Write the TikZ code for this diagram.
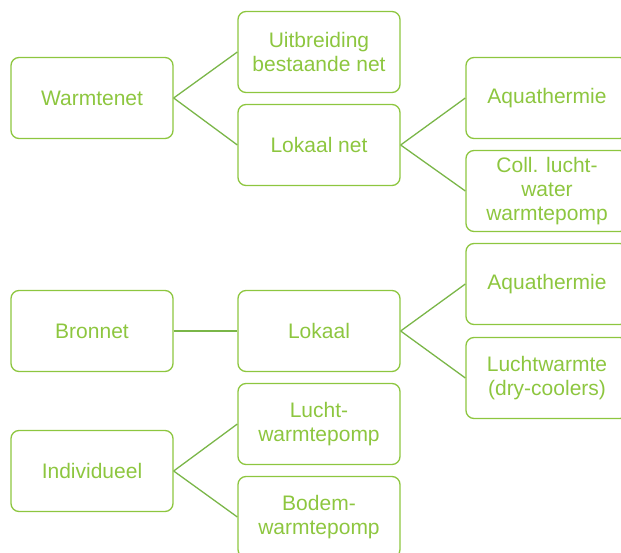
\documentclass[tikz,border=0pt]{standalone}
\usepackage{fontspec}
\setmainfont{Liberation Sans}
\usepackage{tikz}
\usetikzlibrary{positioning}
\definecolor{boxgreen}{HTML}{8DC63F}
\definecolor{linegreen}{HTML}{7AB648}
\tikzset{
	optie/.style={draw=boxgreen, line width=1.3pt, rounded corners=8pt,
		minimum width=162pt, minimum height=81pt, align=center,
		text=boxgreen, font=\fontsize{21}{24}\selectfont},
	tak/.style={draw=linegreen, line width=1.3pt},
}

\begin{document}
\begin{tikzpicture}[x=1pt,y=-1pt]
\useasboundingbox (0,0) rectangle (621,553);
% first column
\node[optie] at (92,98) (warmtenet) {Warmtenet};
\node[optie] at (92,331) (bronnet) {Bronnet};
\node[optie] at (92,471) (indiv) {Individueel};

% second column
\node[optie] at (319,52) (uitbr) {Uitbreiding\\bestaande net};
\node[optie] at (319,145) (lokaalnet) {Lokaal net};
\node[optie] at (319,331) (lokaal) {Lokaal};
\node[optie] at (319,424) (luchtwp) {Lucht-\\warmtepomp};
\node[optie] at (319,517) (bodemwp) {Bodem-\\warmtepomp};

% third column
\node[optie] at (547,98) (aqua1) {Aquathermie};
\node[optie] at (547,191) (coll) {Coll. lucht-\\water\\warmtepomp};
\node[optie] at (547,284) (aqua2) {Aquathermie};
\node[optie] at (547,378) (dry) {Luchtwarmte\\(dry-coolers)};

% the lines
\draw[tak] (warmtenet.east) -- (uitbr.west);
\draw[tak] (warmtenet.east) -- (lokaalnet.west);
\draw[tak] (lokaalnet.east) -- (aqua1.west);
\draw[tak] (lokaalnet.east) -- (coll.west);
\draw[tak] (bronnet.east) -- (lokaal.west);
\draw[tak] (lokaal.east) -- (aqua2.west);
\draw[tak] (lokaal.east) -- (dry.west);
\draw[tak] (indiv.east) -- (luchtwp.west);
\draw[tak] (indiv.east) -- (bodemwp.west);

\end{tikzpicture}
\end{document}
